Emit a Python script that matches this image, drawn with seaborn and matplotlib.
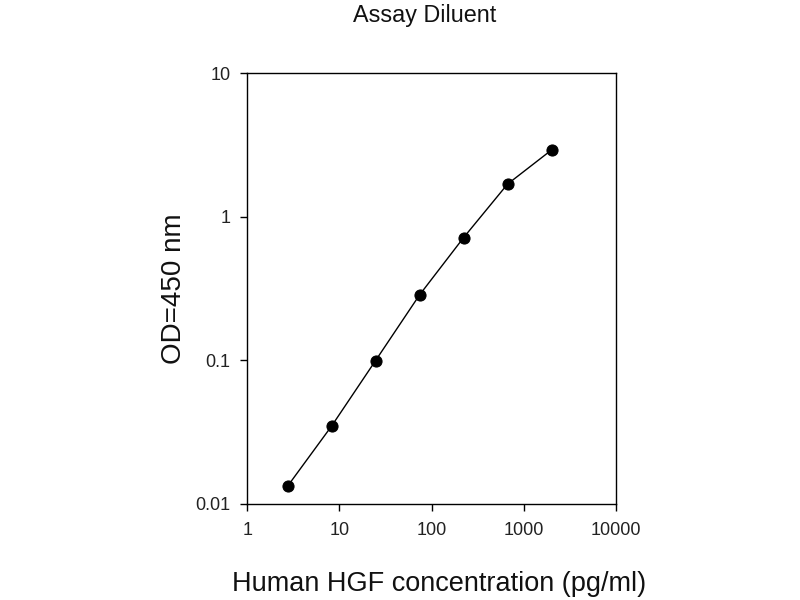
import matplotlib
matplotlib.use("Agg")
import matplotlib.pyplot as plt
import seaborn as sns
import pandas as pd
from matplotlib.ticker import FixedLocator, FixedFormatter, NullLocator

concentration = [2.74, 8.23, 24.7, 74.1, 222.2, 666.7, 2000]
od450 = [0.0133, 0.0349, 0.0998, 0.286, 0.716, 1.69, 2.92]
x_ticks = [1, 10, 100, 1000, 10000]
x_tick_labels = ["1", "10", "100", "1000", "10000"]
y_ticks = [0.01, 0.1, 1, 10]
y_tick_labels = ["0.01", "0.1", "1", "10"]

sns.set_theme(style="white")
plt.rcParams['font.family'] = ['Liberation Sans', 'DejaVu Sans']

df = pd.DataFrame({"conc": concentration, "od": od450})

fig = plt.figure(figsize=(8, 6), dpi=100)
ax = fig.add_axes([0.309, 0.16, 0.461, 0.718])
sns.lineplot(data=df, x="conc", y="od", ax=ax, color="black", linewidth=1,
             marker="o", markersize=8, markeredgecolor="black",
             markerfacecolor="black")
ax.set_xscale("log")
ax.set_yscale("log")
ax.set_xlim(1, 10000)
ax.set_ylim(0.01, 10)
ax.xaxis.set_major_locator(FixedLocator(x_ticks))
ax.xaxis.set_major_formatter(FixedFormatter(x_tick_labels))
ax.yaxis.set_major_locator(FixedLocator(y_ticks))
ax.yaxis.set_major_formatter(FixedFormatter(y_tick_labels))
ax.xaxis.set_minor_locator(NullLocator())
ax.yaxis.set_minor_locator(NullLocator())
ax.tick_params(axis="both", which="major", direction="out", length=5, width=1,
               labelsize=13, colors="black", labelcolor="#222222",
               bottom=True, left=True, top=False, right=False, pad=8)
ax.tick_params(axis="y", pad=7)
for s in ax.spines.values():
    s.set_color("black")
    s.set_linewidth(1)
ax.set_xlabel("Human HGF concentration (pg/ml)", fontsize=19.5, color="#111111")
ax.xaxis.set_label_coords(0.519, -0.156)
ax.set_ylabel("OD=450 nm", fontsize=20, labelpad=6, color="#111111")
ax.set_title("Assay Diluent", fontsize=16.8, pad=37, color="#111111", x=0.482)
fig.savefig("out.png", dpi=100)
